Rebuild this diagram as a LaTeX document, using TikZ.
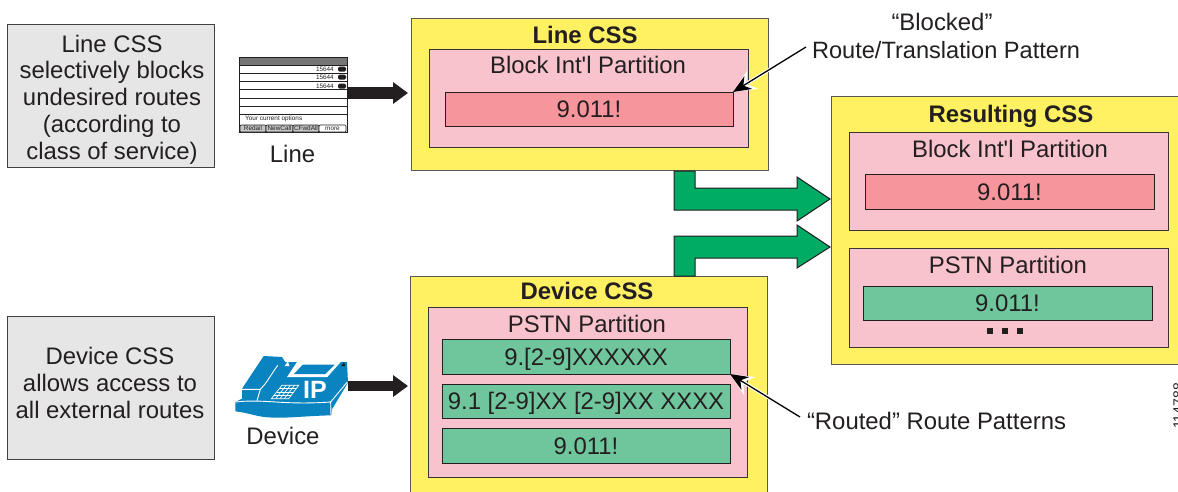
\documentclass[tikz,border=0pt]{standalone}
\usepackage{fontspec}
\setmainfont{Liberation Sans}
\newfontfamily\lblfont{Liberation Sans}
\usetikzlibrary{arrows.meta,calc}
\definecolor{ink}{HTML}{231F20}
\definecolor{yel}{HTML}{FFF162}
\definecolor{pnk}{HTML}{F8C3CD}
\definecolor{rd}{HTML}{F6959B}
\definecolor{grn}{HTML}{70C69C}
\definecolor{arrowgreen}{HTML}{00AB63}
\definecolor{gry}{HTML}{E6E6E6}
\definecolor{phoneblue}{HTML}{0A84C1}
\definecolor{softkey}{HTML}{C4C4C4}
\newcommand\bigfont{\lblfont\fontsize{23.9}{26.7}\selectfont}
\newcommand\notefont{\lblfont\fontsize{23.6}{26.7}\selectfont}
\newcommand\tinyfont{\lblfont\fontsize{6.4}{7}\selectfont}
\newcommand\bx[7][]{\node[#2,#1,minimum width={#5-#3},minimum height={#6-#4}] at ({(#3+#5)/2},{(#4+#6)/2}) {#7};}
\tikzset{
  base/.style={rectangle,inner sep=0pt,outer sep=0pt,draw=ink,line width=1pt},
  yellowbox/.style={base,fill=yel,draw=ink!75},
  pinkbox/.style={base,fill=pnk,draw=ink!90},
  redbox/.style={base,fill=rd,text=ink,font=\bigfont,text height=17pt,text depth=0pt},
  greenbox/.style={base,fill=grn,text=ink,font=\bigfont,text height=17pt,text depth=0pt},
  graybox/.style={base,fill=gry,draw=ink!85},
  notetext/.style={inner sep=0pt,outer sep=0pt,text=ink,font=\bigfont,align=center},
  lbl/.style={inner sep=0pt,outer sep=0pt,text=ink,font=\bigfont,text height=17pt,text depth=0pt},
  title/.style={lbl,font=\bigfont\bfseries},
  blockarrow/.style={fill=arrowgreen,draw=ink,line width=1pt,line join=miter},
  feed/.style={draw=ink,-{Triangle[length=15pt,width=21pt]}},
  halo/.style={draw=white,line width=3.4pt,-{Stealth[length=23pt,width=21pt]}},
  pointer/.style={draw=black,line width=1.3pt,-{Stealth[length=18pt,width=15pt]}},
  softkeybox/.style={base,line width=.7pt,rounded corners=1pt,font=\tinyfont,text=ink},
  rowline/.style={draw=ink,line width=.8pt},
  dotsq/.style={rectangle,fill=ink,inner sep=0pt,minimum size=6pt}
}
\begin{document}
\begin{tikzpicture}[x=1pt,y=-1pt]
\clip (0,0) rectangle (1178,491);
\fill[white] (0,0) rectangle (1178,491);
% side notes
\bx[name=notea]{graybox}{7}{24}{214}{167}{}
\node[notetext] (noteatext) at (112,99.5) {Line CSS\\selectively blocks\\undesired routes\\(according to\\class of service)};
\bx[name=noteb]{graybox}{7}{316}{214}{459}{}
\node[notetext] (notebtext) at (110,383) {Device CSS\\allows access to\\all external routes};
% Line CSS
\bx[name=linecss]{yellowbox}{411}{18}{768}{170}{}
\node[title] (linecsst) at (585,35) {Line CSS};
\bx[name=linepart]{pinkbox}{429}{49}{748}{147}{}
\node[lbl] (lineparttext) at (588,65) {Block Int'l Partition};
\bx[name=linered]{redbox}{445}{92}{733}{126}{9.011!}
% Device CSS
\bx[name=devicecss]{yellowbox}{410}{276}{767}{520}{}
\node[title] (devicecsst) at (587,291) {Device CSS};
\bx[name=devpart]{pinkbox}{428}{307}{747}{477}{}
\node[lbl] (devparttext) at (587,324) {PSTN Partition};
\bx[name=devga]{greenbox}{442}{339}{730}{374}{9.[2-9]XXXXXX}
\bx[name=devgb]{greenbox}{442}{384}{730}{418.5}{9.1 [2-9]XX [2-9]XX XXXX}
\bx[name=devgc]{greenbox}{442}{428}{730}{463}{9.011!}
% Resulting CSS
\bx[name=rescss]{yellowbox}{831}{96}{1210}{364}{}
\node[title] (rescsst) at (1011,114) {Resulting CSS};
\bx[name=respa]{pinkbox}{849}{132}{1168}{230}{}
\node[lbl] (respatext) at (1010,149) {Block Int'l Partition};
\bx[name=resred]{redbox}{865}{174.5}{1154}{209}{9.011!}
\bx[name=respb]{pinkbox}{849}{248.5}{1168}{347}{}
\node[lbl] (respbtext) at (1008,265) {PSTN Partition};
\bx[name=resgreen]{greenbox}{863}{286}{1152}{320}{9.011!}
\node[dotsq] (dota) at (990,331) {};
\node[dotsq] (dotb) at (1005,331) {};
\node[dotsq] (dotc) at (1020,331) {};
% green block arrows
\draw[blockarrow] (674,171) -- (695,171) -- (695,188) -- (797,188) -- (797,177) -- (830,199) -- (797,221) -- (797,210) -- (674,210) -- cycle;
\draw[blockarrow] (674,276) -- (695,276) -- (695,258) -- (797,258) -- (797,268) -- (830,247) -- (797,225) -- (797,236) -- (674,236) -- cycle;
% line phone
\bx[name=linephone]{base}{239}{57}{347}{132}{}
\fill[gray!90!ink] (239.5,57.5) rectangle (346.5,65);
\foreach \yy in {65,73,81,89,98,106,114} \draw[rowline] (239,\yy) -- (347,\yy);
\foreach \yy in {69,77,86} {
  \node[font=\tinyfont,text=ink,anchor=east,inner sep=0pt] at (334,\yy) {15644};
  \fill[ink,rounded corners=1.5pt] (338,\yy-2.5) rectangle (346,\yy+2.5);
}
\node[font=\tinyfont,text=ink,anchor=west,inner sep=0pt] at (245,119) {Your current options};
\bx{softkeybox,fill=softkey}{240}{125}{266}{132}{Redail}
\bx{softkeybox,fill=softkey}{266}{125}{293}{132}{NewCall}
\bx{softkeybox,fill=softkey}{293}{125}{319}{132}{CFwdAll}
\bx{softkeybox,fill=white}{319}{125}{346}{132}{more}
\node[lbl] (linelabel) at (292.5,154) {Line};
% IP phone
\node[inner sep=0pt,outer sep=0pt,minimum width=113pt,minimum height=48pt] (ipphone) at (291.5,386) {};
\begin{scope}[shift={(232,352)},x=.3333pt,y=-.3333pt]
  \fill[phoneblue] (10,150) -- (30,140) -- (30,110) -- (95,12) -- (150,15) -- (160,30) -- (345,30) -- (348,92) -- (300,172) -- (298,190) .. controls (200,192) and (130,205) .. (70,190) .. controls (50,185) and (30,180) .. (10,178) -- cycle;
  \draw[white,line width=.9pt] (10,150) .. controls (100,140) and (150,160) .. (296,150) -- (346,90);
  \draw[white,line width=.9pt] (296,150) -- (297,190);
  \draw[white,line width=.9pt] (137,40) -- (100,95) -- (85,112) -- (28,112);
  \draw[white,line width=.9pt] (85,112) -- (75,146);
  \fill[white] (195,30) -- (326,30) -- (286,75) -- (165,75) -- cycle;
  \fill[phoneblue] (212,38) -- (308,38) -- (280,66) -- (186,66) -- cycle;
  \fill[white] (158,42) -- (168,28) -- (172,42) -- cycle;
  \fill[ink] (328,42) -- (336,30) -- (340,42) -- cycle;
  \draw[white,line width=.7pt] (150,100) -- (200,100) -- (170,140) -- (118,140) -- cycle;
  \foreach \t in {0.25,0.5,0.75} {
    \draw[white,line width=.7pt] ($(150,100)!\t!(118,140)$) -- ($(200,100)!\t!(170,140)$);
  }
  \foreach \t in {0.25,0.5,0.75} {
    \draw[white,line width=.7pt] ($(150,100)!\t!(200,100)$) -- ($(118,140)!\t!(170,140)$);
  }
\end{scope}
\node[inner sep=0pt,text=white,font=\lblfont\fontsize{25}{25}\selectfont\bfseries] (iptext) at (315,390) {IP};
\node[lbl] (devicelabel) at (283,436) {Device};
% feed arrows
\draw[feed,line width=12pt,shorten >=3pt] ([yshift=1.5pt]linephone.east) -- ([yshift=1.5pt]linephone.east -| linecss.west);
\draw[feed,line width=9.5pt,shorten >=2pt] (ipphone.east) -- (ipphone.east -| devicecss.west);
% annotations
\node[lbl] (blocked) at (942,22) {“Blocked”};
\node[lbl,anchor=west,font=\notefont] (rtp) at (812,50) {Route/Translation Pattern};
\node[lbl,anchor=west] (routed) at (807,421) {“Routed” Route Patterns};
\coordinate (rtpstart) at ([shift={(-6,-3)}]rtp.west);
\coordinate (routedstart) at ([shift={(-7,-4)}]routed.west);
\draw[halo] (rtpstart) -- (linered.north east);
\draw[pointer] (rtpstart) -- (linered.north east);
\draw[halo] (routedstart) -- (devga.south east);
\draw[pointer] (routedstart) -- (devga.south east);
% figure number
\node[rotate=90,anchor=base,inner sep=0pt,text=ink,font=\lblfont\fontsize{14}{14}\selectfont] (fignum) at (1183,406) {114788};
\end{tikzpicture}
\end{document}
